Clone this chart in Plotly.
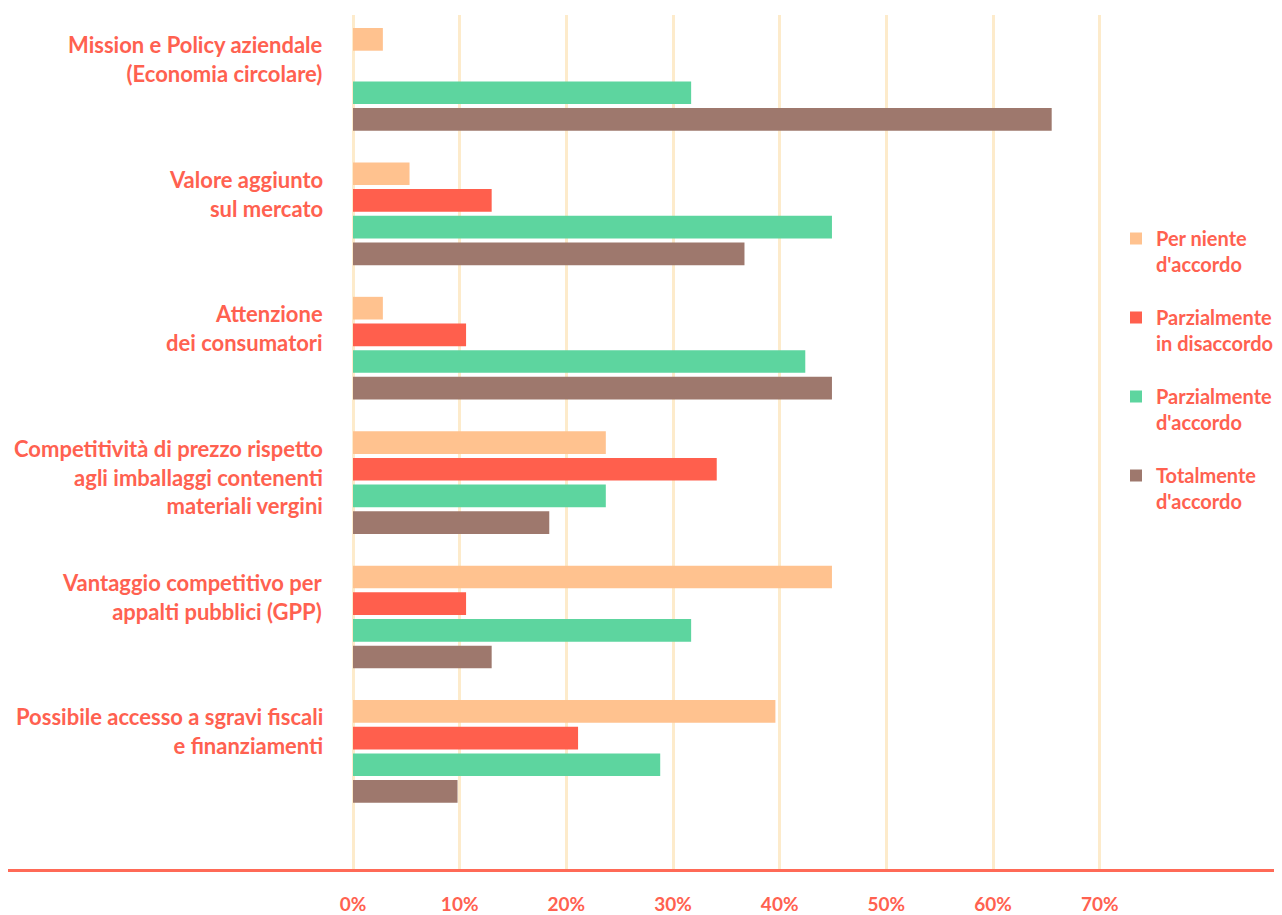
import plotly.graph_objects as go

categories = [
    "Mission e Policy aziendale<br>(Economia circolare)",
    "Valore aggiunto<br>sul mercato",
    "Attenzione<br>dei consumatori",
    "Competitività di prezzo rispetto<br>agli imballaggi contenenti<br>materiali vergini",
    "Vantaggio competitivo per<br>appalti pubblici (GPP)",
    "Possibile accesso a sgravi fiscali<br>e finanziamenti",
]
series_names = [
    "Per niente<br>d'accordo",
    "Parzialmente<br>in disaccordo",
    "Parzialmente<br>d'accordo",
    "Totalmente<br>d'accordo",
]
per_niente = [2.8, 5.3, 2.8, 23.7, 44.9, 39.6]
parz_disaccordo = [0.0, 13.0, 10.6, 34.1, 10.6, 21.1]
parz_accordo = [31.7, 44.9, 42.4, 23.7, 31.7, 28.8]
totalmente = [65.5, 36.7, 44.9, 18.4, 13.0, 9.8]
tick_values = [0, 10, 20, 30, 40, 50, 60, 70]
tick_labels = ["0%", "10%", "20%", "30%", "40%", "50%", "60%", "70%"]

colors = ["#FFC28F", "#FF5F4D", "#5DD59F", "#9E786D"]
text_color = "#FF6150"
font_family = "Lato, 'Source Sans Pro', 'Noto Sans', sans-serif"

# the page body has an 8px margin: size the figure to fill the rest of the window
OFF = 8
W, H = 1282 - OFF, 915 - OFF
ml, mr, mt, mb = 0, 0, 15 - OFF, 46
x0_px = 353.0 - OFF
px_per_unit = 10.667
x_left = -(x0_px - ml) / px_per_unit
x_right = (W - mr - x0_px) / px_per_unit
plot_w = W - ml - mr
plot_h = H - mt - mb

fig = go.Figure()
for i, (name, vals) in enumerate(zip(series_names, [per_niente, parz_disaccordo, parz_accordo, totalmente])):
    fig.add_trace(go.Bar(
        x=vals, y=categories, orientation="h", name=name,
        marker=dict(color=colors[i], line=dict(width=0)),
        legendgroup=f"g{i}", hoverinfo="x+name",
    ))

label_x_paper = (325 - OFF - ml) / plot_w

for c in categories:
    fig.add_annotation(
        text=c, xref="paper", yref="y", x=label_x_paper, y=c,
        xanchor="right", yanchor="top", yshift=50, align="right", showarrow=False,
        font=dict(family=font_family, size=22, color=text_color, weight="bold"),
    )

legend_top_px = 219 - OFF
fig.update_layout(
    width=W, height=H,
    margin=dict(l=ml, r=mr, t=mt, b=mb, pad=0, autoexpand=False),
    paper_bgcolor="white", plot_bgcolor="white",
    barmode="group", bargap=0.206, bargroupgap=0.15,
    showlegend=True,
    legend=dict(
        x=(1116 - OFF - ml) / plot_w, xanchor="left",
        y=1 - (legend_top_px - mt) / plot_h, yanchor="top",
        traceorder="grouped", tracegroupgap=24, valign="top",
        font=dict(family=font_family, size=20, color=text_color, weight="bold"),
        bgcolor="rgba(0,0,0,0)",
    ),
    xaxis=dict(
        range=[x_left, x_right], tickvals=tick_values, ticktext=tick_labels,
        showgrid=True, gridcolor="#FDEBCB", gridwidth=2.5, zeroline=False,
        showline=True, linecolor="#FF6A57", linewidth=2.5,
        ticks="", ticklabelstandoff=16, automargin=False,
        tickfont=dict(family=font_family, size=19, color=text_color, weight="bold"),
        fixedrange=True,
    ),
    yaxis=dict(
        type="category", categoryorder="array", categoryarray=categories,
        range=[5.875, -0.479], showticklabels=False, showgrid=False,
        zeroline=False, showline=False, ticks="", fixedrange=True, automargin=False,
    ),
)

fig.write_html("out.html")
